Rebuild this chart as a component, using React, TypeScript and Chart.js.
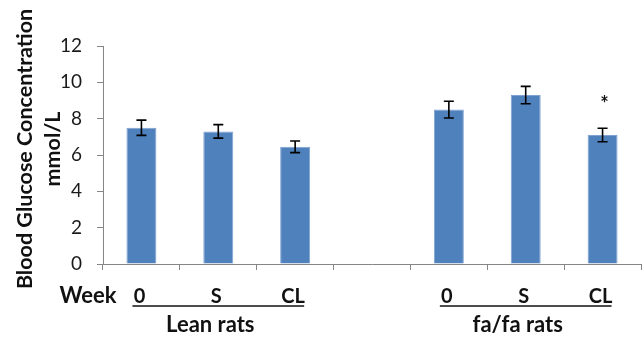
import React, { useEffect, useRef } from "react";
import { Chart, registerables } from "chart.js";

Chart.register(...registerables);

const categories = ["0", "S", "CL", "", "0", "S", "CL"];
const meanValues = [7.5, 7.3, 6.45, null, 8.5, 9.3, 7.1];
const errorValues = [0.42, 0.37, 0.32, null, 0.46, 0.48, 0.37];
const groupLabels = ["Lean rats", "fa/fa rats"];
const groupRanges = [
  [0, 2],
  [4, 6],
];
const significance = [null, null, null, null, null, null, "*"];
const yTitle = ["Blood Glucose Concentration", "mmol/L"];
const weekLabel = "Week";

const FONT = "Lato, 'Open Sans', sans-serif";

const overlayPlugin = {
  id: "overlay",
  afterDatasetsDraw(chart: any) {
    const ctx = chart.ctx;
    const x = chart.scales.x;
    const y = chart.scales.y;
    ctx.save();
    ctx.strokeStyle = "#000";
    ctx.lineWidth = 1.6;
    meanValues.forEach((v, i) => {
      const e = errorValues[i];
      if (v == null || e == null) return;
      const cx = x.getPixelForValue(i);
      const yt = y.getPixelForValue(v + e);
      const yb = y.getPixelForValue(v - e);
      ctx.beginPath();
      ctx.moveTo(cx, yt);
      ctx.lineTo(cx, yb);
      ctx.moveTo(cx - 5, yt);
      ctx.lineTo(cx + 5, yt);
      ctx.moveTo(cx - 5, yb);
      ctx.lineTo(cx + 5, yb);
      ctx.stroke();
    });
    ctx.fillStyle = "#111";
    ctx.font = `bold 20px ${FONT}`;
    ctx.textAlign = "center";
    ctx.textBaseline = "middle";
    significance.forEach((s, i) => {
      if (!s) return;
      const v = meanValues[i] as number;
      const e = errorValues[i] as number;
      ctx.fillText(s, x.getPixelForValue(i) + 2, y.getPixelForValue(v + e + 1.55) + 4);
    });
    ctx.restore();
  },
  afterDraw(chart: any) {
    const ctx = chart.ctx;
    const x = chart.scales.x;
    const area = chart.chartArea;
    ctx.save();
    ctx.fillStyle = "#111";
    ctx.font = `bold 20px ${FONT}`;
    ctx.textAlign = "center";
    ctx.textBaseline = "alphabetic";
    const base = area.bottom + 39;
    categories.forEach((c, i) => {
      if (!c) return;
      ctx.fillText(c, x.getPixelForValue(i) - 2, base);
    });
    ctx.font = `bold 22px ${FONT}`;
    ctx.textAlign = "right";
    ctx.fillText(weekLabel, x.getPixelForValue(0) - 25, base);
    ctx.strokeStyle = "#111";
    ctx.lineWidth = 1.6;
    groupRanges.forEach((r, gi) => {
      const x0 = x.getPixelForValue(r[0]) - 9;
      const x1 = x.getPixelForValue(r[1]) + 9;
      ctx.beginPath();
      ctx.moveTo(x0, base + 3);
      ctx.lineTo(x1, base + 3);
      ctx.stroke();
      ctx.font = `bold 22px ${FONT}`;
      ctx.textAlign = "center";
      ctx.fillText(groupLabels[gi], x.getPixelForValue((r[0] + r[1]) / 2) - 8, base + 29);
    });
    ctx.save();
    ctx.translate(0, 149);
    ctx.rotate(-Math.PI / 2);
    ctx.textAlign = "center";
    ctx.textBaseline = "middle";
    ctx.font = `bold 21.5px ${FONT}`;
    ctx.fillText(yTitle[0], 0, 25);
    ctx.fillText(yTitle[1], 0, 53);
    ctx.restore();
    ctx.restore();
  },
};

export default function App() {
  const ref = useRef<HTMLCanvasElement | null>(null);
  useEffect(() => {
    if (!ref.current) return;
    const chart = new Chart(ref.current, {
      type: "bar",
      data: {
        labels: categories,
        datasets: [
          {
            data: meanValues as any,
            backgroundColor: "#4F81BD",
            borderColor: "#7FA2D2",
            borderWidth: 1,
            categoryPercentage: 1,
            barPercentage: 0.39,
          },
        ],
      },
      options: {
        animation: false,
        responsive: false,
        maintainAspectRatio: false,
        layout: { padding: { left: 0, top: 46, right: 2, bottom: 0 } },
        plugins: {
          legend: { display: false },
          tooltip: { enabled: false },
          title: { display: false },
        },
        scales: {
          x: {
            afterFit: (s: any) => {
              s.height = 77;
            },
            grid: {
              display: true,
              offset: true,
              drawOnChartArea: false,
              drawTicks: true,
              tickLength: 6,
              color: "#868686",
            },
            border: { display: true, color: "#868686", width: 1 },
            ticks: { display: false },
          },
          y: {
            min: 0,
            max: 12,
            afterFit: (s: any) => {
              s.width = 103;
            },
            grid: {
              display: true,
              drawOnChartArea: false,
              drawTicks: true,
              tickLength: 6,
              color: "#868686",
            },
            border: { display: true, color: "#868686", width: 1 },
            ticks: {
              stepSize: 2,
              padding: 15,
              color: "#1a1a1a",
              font: { family: FONT, size: 19 },
            },
          },
        },
      },
      plugins: [overlayPlugin],
    });
    return () => chart.destroy();
  }, []);
  return (
    <div style={{ position: "fixed", left: 0, top: 0, width: 643, height: 341, background: "#fff" }}>
      <canvas ref={ref} width={643} height={341} style={{ width: 643, height: 341, display: "block" }} />
    </div>
  );
}
